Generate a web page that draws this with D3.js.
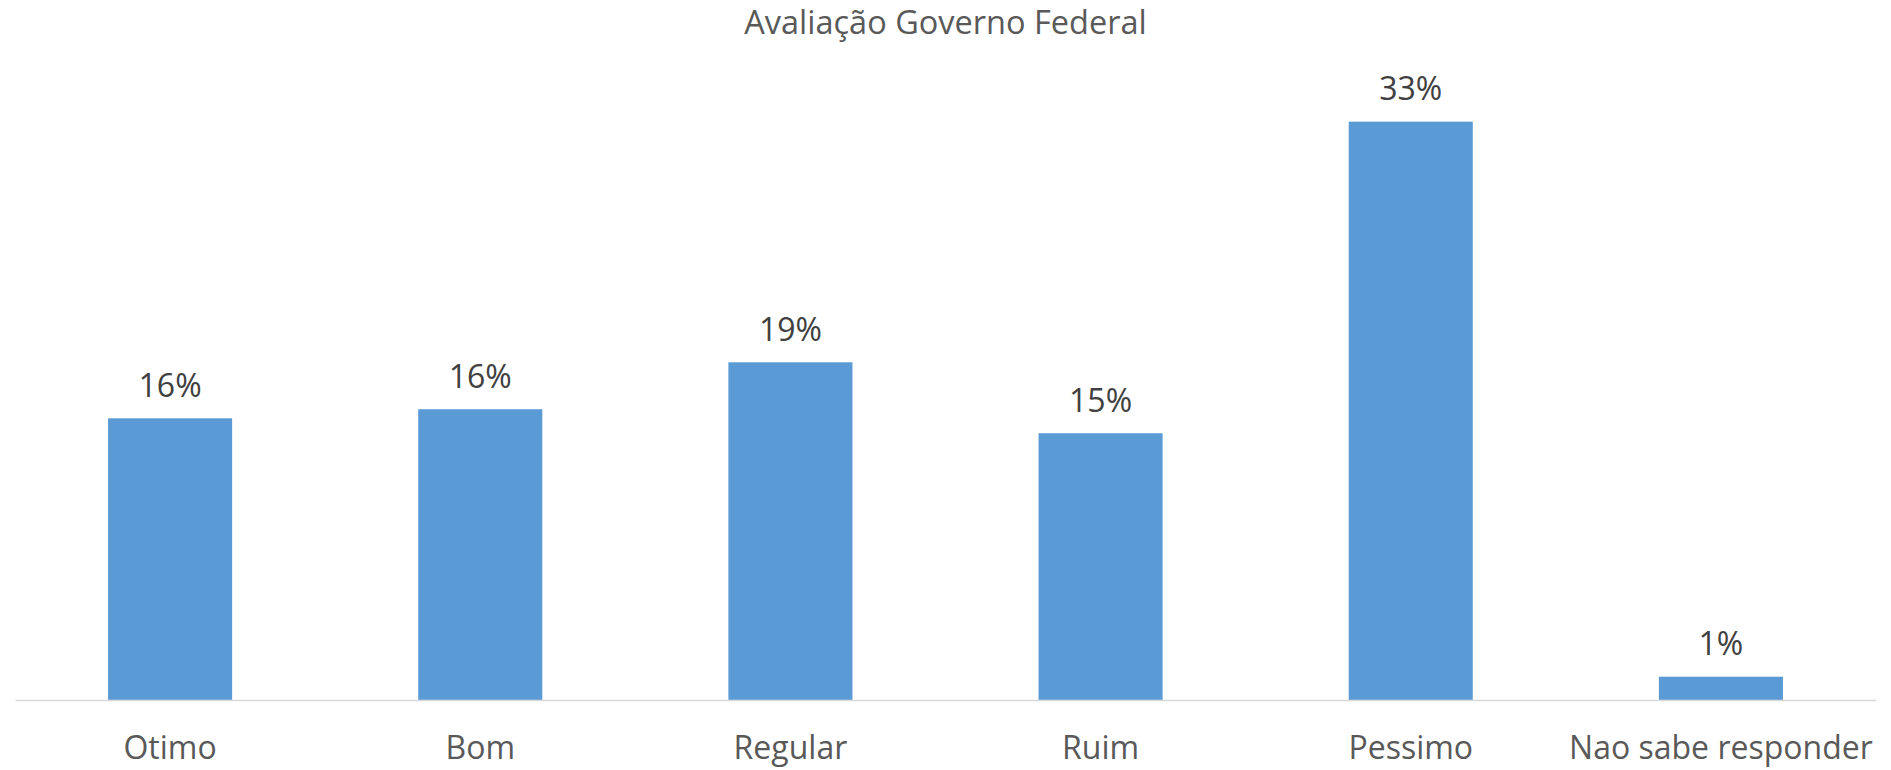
<!DOCTYPE html>
<html>
<head>
<meta charset="utf-8">
<script src="https://cdn.jsdelivr.net/npm/d3@7"></script>
<style>
  html, body { margin: 0; padding: 0; background: #fff; }
  svg { display: block; }
  text { font-family: "Open Sans", "Noto Sans", sans-serif; }
</style>
</head>
<body>
<svg id="chart" width="1891" height="770"></svg>
<script>
const title = "Avaliação Governo Federal";
const categories = ["Otimo", "Bom", "Regular", "Ruim", "Pessimo", "Nao sabe responder"];
const values = [0.1584, 0.1635, 0.1899, 0.1500, 0.3252, 0.0131];
const valueLabels = ["16%", "16%", "19%", "15%", "33%", "1%"];

const svg = d3.select("#chart");
const W = 1891, H = 770;
const baseline = 700;

const x = d3.scaleBand()
  .domain(categories)
  .range([15, 1876])
  .paddingInner(0.6)
  .paddingOuter(0.3);

const y = d3.scaleLinear()
  .domain([0, 0.35])
  .range([baseline, baseline - 0.35 * 1778.4]);

svg.append("text")
  .attr("x", W / 2)
  .attr("y", 34)
  .attr("text-anchor", "middle")
  .attr("font-size", 32.5)
  .attr("fill", "#595959")
  .text(title);

const data = categories.map((c, i) => ({ c, v: values[i], l: valueLabels[i] }));

svg.append("g").selectAll("rect")
  .data(data)
  .join("rect")
  .attr("x", d => x(d.c))
  .attr("width", x.bandwidth())
  .attr("y", d => y(d.v))
  .attr("height", d => baseline - y(d.v))
  .attr("fill", "#5B9BD5");

svg.append("g").selectAll("text")
  .data(data)
  .join("text")
  .attr("x", d => x(d.c) + x.bandwidth() / 2)
  .attr("y", d => y(d.v) - 21.6)
  .attr("text-anchor", "middle")
  .attr("font-size", 32)
  .attr("fill", "#404040")
  .text(d => d.l);

const xAxis = d3.axisBottom(x).tickSize(0).tickPadding(0);
const ax = svg.append("g")
  .attr("transform", `translate(0,${baseline})`)
  .call(xAxis);
ax.select(".domain").attr("stroke", "#d9d9d9").attr("stroke-width", 1.5);
ax.selectAll(".tick text")
  .attr("y", 59)
  .attr("dy", 0)
  .attr("font-size", 32)
  .attr("fill", "#595959")
  .style("font-family", '"Open Sans", sans-serif');
</script>
</body>
</html>
